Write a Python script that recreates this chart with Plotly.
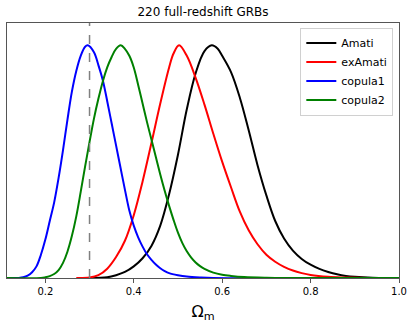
import plotly.graph_objects as go

# Values (Omega_m, normalised posterior)
amati_x = [0.30, 0.34, 0.36, 0.38, 0.40, 0.42, 0.44, 0.46, 0.48, 0.50, 0.52, 0.54, 0.56, 0.5765,
           0.59, 0.60, 0.62, 0.64, 0.66, 0.68, 0.70, 0.72, 0.74, 0.76, 0.78, 0.80, 0.82, 0.84,
           0.86, 0.88, 0.90, 0.94, 0.98, 1.0]
amati_y = [0.0, 0.003, 0.012, 0.026, 0.05, 0.085, 0.138, 0.225, 0.36, 0.53, 0.725, 0.88, 0.975, 1.0,
           0.985, 0.955, 0.885, 0.775, 0.635, 0.485, 0.355, 0.245, 0.17, 0.118, 0.082, 0.057, 0.039, 0.026,
           0.016, 0.009, 0.005, 0.001, 0.0, 0.0]

examati_x = [0.27, 0.30, 0.32, 0.34, 0.36, 0.38, 0.40, 0.42, 0.44, 0.46, 0.48, 0.49, 0.5025,
             0.52, 0.54, 0.56, 0.58, 0.60, 0.62, 0.64, 0.66, 0.68, 0.70, 0.72, 0.74, 0.76, 0.78,
             0.80, 0.84, 0.88, 0.93, 1.0]
examati_y = [0.0, 0.002, 0.012, 0.04, 0.09, 0.16, 0.27, 0.415, 0.58, 0.75, 0.905, 0.965, 1.0,
             0.955, 0.86, 0.745, 0.62, 0.50, 0.39, 0.285, 0.205, 0.145, 0.10, 0.07, 0.048, 0.032, 0.021,
             0.013, 0.005, 0.002, 0.0, 0.0]

copula1_x = [0.1133, 0.14, 0.15, 0.16, 0.17, 0.18, 0.19, 0.20, 0.21, 0.22, 0.23, 0.24, 0.25, 0.26,
             0.27, 0.28, 0.29, 0.296, 0.31, 0.32, 0.33, 0.34, 0.35, 0.36, 0.37, 0.38, 0.39, 0.40,
             0.41, 0.42, 0.43, 0.44, 0.45, 0.46, 0.47, 0.48, 0.50, 0.52, 0.55, 0.58, 1.0]
copula1_y = [0.0, 0.0005, 0.003, 0.01, 0.025, 0.05, 0.10, 0.165, 0.245, 0.325, 0.43, 0.55, 0.68, 0.80,
             0.89, 0.955, 0.994, 1.0, 0.97, 0.915, 0.85, 0.76, 0.665, 0.57, 0.475, 0.38, 0.29, 0.225,
             0.175, 0.135, 0.102, 0.078, 0.058, 0.042, 0.03, 0.021, 0.012, 0.006, 0.002, 0.0, 0.0]

copula2_x = [0.1133, 0.19, 0.20, 0.21, 0.22, 0.23, 0.24, 0.25, 0.26, 0.27, 0.28, 0.29, 0.30, 0.31,
             0.32, 0.33, 0.34, 0.35, 0.36, 0.3706, 0.38, 0.39, 0.40, 0.41, 0.42, 0.43, 0.44, 0.45,
             0.46, 0.47, 0.48, 0.49, 0.50, 0.51, 0.52, 0.53, 0.54, 0.55, 0.56, 0.58, 0.60, 0.62,
             0.65, 0.70, 0.75, 1.0]
copula2_y = [0.0, 0.0, 0.003, 0.008, 0.017, 0.034, 0.065, 0.113, 0.18, 0.265, 0.37, 0.48, 0.585, 0.685,
             0.77, 0.845, 0.905, 0.95, 0.985, 1.0, 0.985, 0.955, 0.905, 0.83, 0.75, 0.67, 0.595, 0.52,
             0.445, 0.375, 0.31, 0.25, 0.195, 0.15, 0.115, 0.088, 0.067, 0.051, 0.039, 0.023, 0.014, 0.009,
             0.004, 0.001, 0.0, 0.0]

series = [
    ("Amati", amati_x, amati_y, "black"),
    ("exAmati", examati_x, examati_y, "red"),
    ("copula1", copula1_x, copula1_y, "blue"),
    ("copula2", copula2_x, copula2_y, "green"),
]

reference_omega = 0.3
x_ticks = [0.2, 0.4, 0.6, 0.8, 1.0]
tick_text = ["0.2", "0.4", "0.6", "0.8", "1.0"]

fig = go.Figure()
for name, xs, ys, col in series:
    fig.add_trace(go.Scatter(x=xs, y=ys, mode="lines", name=name,
                             line=dict(color=col, width=2, shape="spline", smoothing=1.0)))

fig.add_vline(x=reference_omega, line=dict(color="#808080", width=1.5, dash="dash"))

font = "DejaVu Sans"
fig.update_layout(
    width=415, height=323,
    margin=dict(l=7, r=16, t=23, b=45, autoexpand=False),
    paper_bgcolor="white", plot_bgcolor="white",
    font=dict(family=font, size=11, color="black"),
    title=dict(text="220 full-redshift GRBs", x=0.5, xref="paper", xanchor="center",
               y=1 - 12 / 323, yref="container", yanchor="middle",
               font=dict(size=12, family=font, color="black")),
    showlegend=True,
    legend=dict(x=0.9855, y=0.982, xanchor="right", yanchor="top",
                bgcolor="white", bordercolor="#d0d0d0", borderwidth=1,
                font=dict(size=11, family=font), tracegroupgap=0, itemwidth=30),
    xaxis=dict(range=[0.1133, 1.0], tickvals=x_ticks, ticktext=tick_text,
               showgrid=False, zeroline=False, showline=True, mirror=True,
               linecolor="#555555", linewidth=1, ticks="outside", ticklen=3.5,
               tickcolor="#555555", tickfont=dict(size=10),
               title=dict(text="Ω<sub>m</sub>", font=dict(size=16), standoff=11)),
    yaxis=dict(range=[0, 1.096], showticklabels=False, ticks="", showgrid=False,
               zeroline=False, showline=True, mirror=True,
               linecolor="#555555", linewidth=1),
)

fig.write_html("out.html", config={"displayModeBar": False},
               post_script="document.body.style.margin='0';")
